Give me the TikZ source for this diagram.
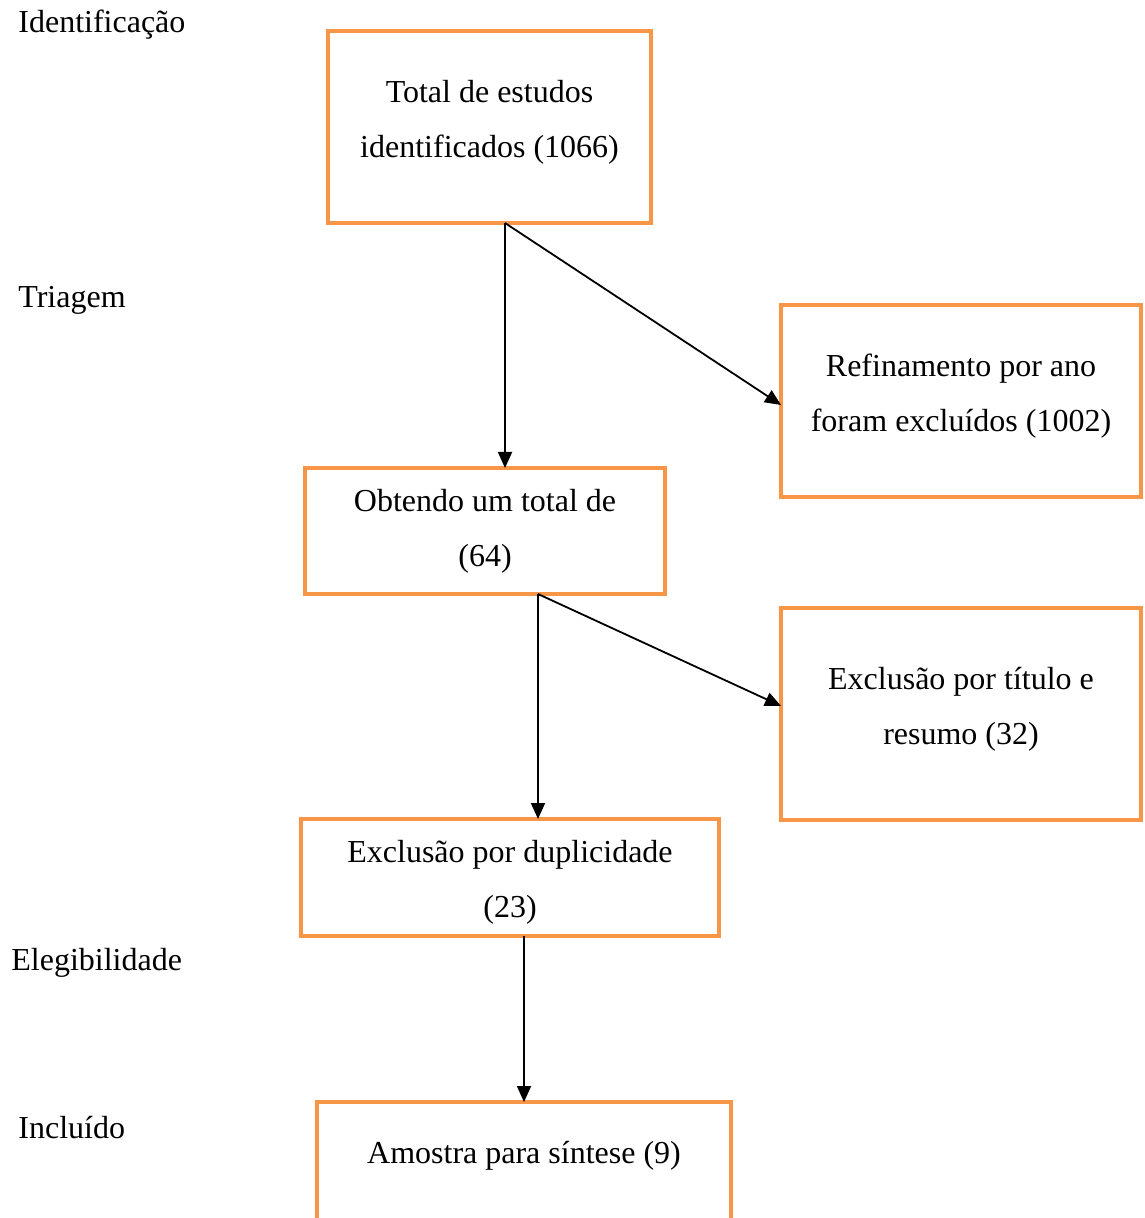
\documentclass[tikz,border=0pt]{standalone}
\usepackage{fontspec}
\setmainfont{Liberation Serif}
\usepackage{tikz}
\usetikzlibrary{arrows.meta}
\definecolor{boxorange}{HTML}{F79646}

\tikzset{
  stagebox/.style={draw=boxorange, line width=2pt, inner sep=0pt, outer sep=0pt},
  boxtxt/.style={align=center, inner sep=0pt, font=\fontsize{16pt}{27.5pt}\selectfont},
  phase/.style={anchor=west, inner sep=0pt, font=\fontsize{16pt}{19pt}\selectfont},
  arr/.style={line width=0.9pt, -{Triangle[length=8pt,width=7pt]}}
}

\begin{document}
\begin{tikzpicture}[x=0.5pt, y=-0.5pt]
        \useasboundingbox (0,0) rectangle (1144,1218);
\node[phase] (idf) at (18,25) {Identificação}; % Fase.0
\node[phase] (tri) at (18,300) {Triagem}; % Fase.1
\node[phase] (ele) at (11,963) {Elegibilidade}; % Fase.2
\node[phase] (inc) at (18,1128) {Incluído}; % Fase.3
\node[stagebox, minimum width=161.5pt, minimum height=96pt] (tot) at (489.5,127) {}; % Caixa.0
\node[boxtxt] (totx) at (489.5,122) {Total de estudos\\identificados (1066)}; % Caixa.0
\node[stagebox, minimum width=180pt, minimum height=96pt] (ref) at (961,401) {}; % Caixa.1
\node[boxtxt] (refx) at (961,396.5) {Refinamento por ano\\foram excluídos (1002)}; % Caixa.1
\node[stagebox, minimum width=180pt, minimum height=63pt] (obt) at (485,531) {}; % Caixa.2
\node[boxtxt] (obtx) at (485,531.5) {Obtendo um total de\\(64)}; % Caixa.2
\node[stagebox, minimum width=180pt, minimum height=106pt] (tit) at (961,714) {}; % Caixa.3
\node[boxtxt] (titx) at (961,709.5) {Exclusão por título e\\resumo (32)}; % Caixa.3
\node[stagebox, minimum width=209pt, minimum height=58.5pt] (dup) at (510,877.5) {}; % Caixa.4
\node[boxtxt] (dupx) at (510,882.5) {Exclusão por duplicidade\\(23)}; % Caixa.4
\node[stagebox, minimum width=207pt, minimum height=59.5pt] (amo) at (524,1161.5) {}; % Caixa.5
\node[boxtxt] (amox) at (524,1156) {Amostra para síntese (9)}; % Caixa.5
\draw[arr] ([xshift=7.75pt]tot.south) -- ([xshift=10pt]obt.north); % Seta.0
\draw[arr] ([xshift=7.75pt]tot.south) -- ([yshift=-2pt]ref.west); % Seta.1
\draw[arr] ([xshift=26.5pt]obt.south) -- ([xshift=14pt]dup.north); % Seta.2
\draw[arr] ([xshift=26.5pt]obt.south) -- ([yshift=4pt]tit.west); % Seta.3
\draw[arr] ([xshift=7pt]dup.south) -- (amo.north); % Seta.4

        \end{tikzpicture}
\end{document}
